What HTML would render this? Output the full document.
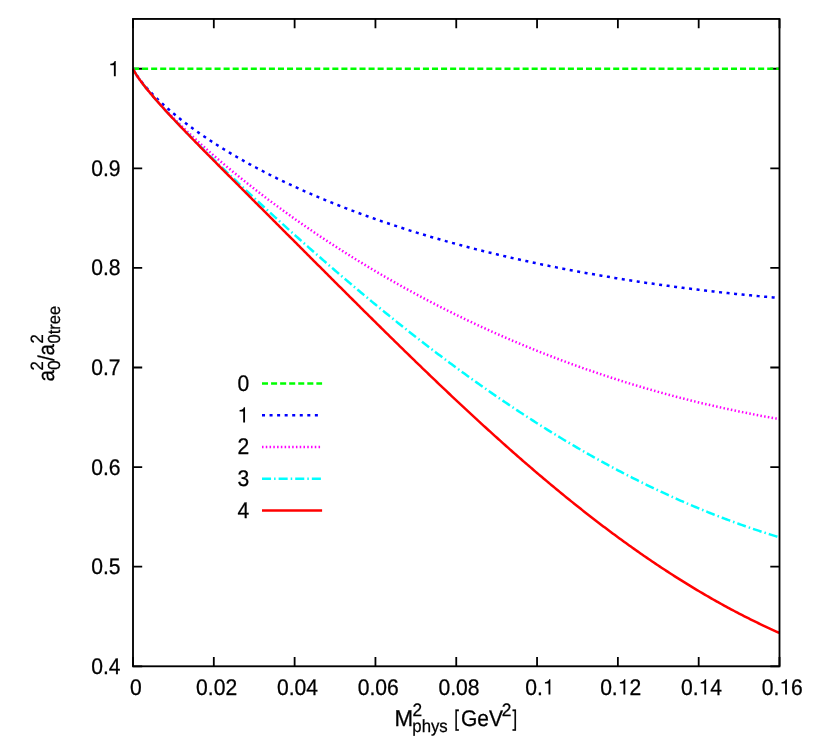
<!DOCTYPE html>
<html><head><meta charset="utf-8"><title>plot</title>
<style>html,body{margin:0;padding:0;background:#fff;}svg{display:block;will-change:transform;}text{font-family:"Liberation Sans",sans-serif;fill:#000;text-rendering:geometricPrecision;stroke:#000;stroke-width:0.25px;}.g1{fill:#000;stroke:none;}</style></head>
<body>
<svg width="830" height="740" viewBox="0 0 830 740">
<rect width="830" height="740" fill="#fff"/>
<g stroke="#000" stroke-width="1.80" fill="none">
<path d="M133.00 666.30V657.10M133.00 18.95V28.15"/>
<path d="M213.81 666.30V657.10M213.81 18.95V28.15"/>
<path d="M294.62 666.30V657.10M294.62 18.95V28.15"/>
<path d="M375.44 666.30V657.10M375.44 18.95V28.15"/>
<path d="M456.25 666.30V657.10M456.25 18.95V28.15"/>
<path d="M537.06 666.30V657.10M537.06 18.95V28.15"/>
<path d="M617.88 666.30V657.10M617.88 18.95V28.15"/>
<path d="M698.69 666.30V657.10M698.69 18.95V28.15"/>
<path d="M779.50 666.30V657.10M779.50 18.95V28.15"/>
<path d="M133.00 666.30H142.20M779.50 666.30H770.30"/>
<path d="M133.00 566.71H142.20M779.50 566.71H770.30"/>
<path d="M133.00 467.12H142.20M779.50 467.12H770.30"/>
<path d="M133.00 367.52H142.20M779.50 367.52H770.30"/>
<path d="M133.00 267.93H142.20M779.50 267.93H770.30"/>
<path d="M133.00 168.34H142.20M779.50 168.34H770.30"/>
<path d="M133.00 68.75H142.20M779.50 68.75H770.30"/>
</g>
<text transform="translate(120.60 673.80) scale(1.005 1.075)" font-size="21.0px" text-anchor="end">0.4</text>
<text transform="translate(120.60 574.21) scale(1.005 1.075)" font-size="21.0px" text-anchor="end">0.5</text>
<text transform="translate(120.60 474.62) scale(1.005 1.075)" font-size="21.0px" text-anchor="end">0.6</text>
<text transform="translate(120.60 375.02) scale(1.005 1.075)" font-size="21.0px" text-anchor="end">0.7</text>
<text transform="translate(120.60 275.43) scale(1.005 1.075)" font-size="21.0px" text-anchor="end">0.8</text>
<text transform="translate(120.60 175.84) scale(1.005 1.075)" font-size="21.0px" text-anchor="end">0.9</text>
<g transform="translate(119.90 76.25) scale(1.005 1.075)" font-size="21.0px"><path class="g1" transform="translate(-11.68 0) scale(0.0210 0.0201)" d="M359 0V-709H302C290 -640 250 -592 101 -574V-510H271V0Z"/></g>
<text transform="translate(135.80 694.55) scale(1.005 1.075)" font-size="21.0px" text-anchor="middle">0</text>
<text transform="translate(216.61 694.55) scale(1.005 1.075)" font-size="21.0px" text-anchor="middle">0.02</text>
<text transform="translate(297.43 694.55) scale(1.005 1.075)" font-size="21.0px" text-anchor="middle">0.04</text>
<text transform="translate(378.24 694.55) scale(1.005 1.075)" font-size="21.0px" text-anchor="middle">0.06</text>
<text transform="translate(459.05 694.55) scale(1.005 1.075)" font-size="21.0px" text-anchor="middle">0.08</text>
<g transform="translate(539.86 694.55) scale(1.005 1.075)" font-size="21.0px"><text x="-14.60" y="0">0.</text><path class="g1" transform="translate(2.92 0) scale(0.0210 0.0201)" d="M359 0V-709H302C290 -640 250 -592 101 -574V-510H271V0Z"/></g>
<g transform="translate(620.67 694.55) scale(1.005 1.075)" font-size="21.0px"><text x="-20.44" y="0">0.</text><path class="g1" transform="translate(-2.92 0) scale(0.0210 0.0201)" d="M359 0V-709H302C290 -640 250 -592 101 -574V-510H271V0Z"/><text x="8.76" y="0">2</text></g>
<g transform="translate(701.49 694.55) scale(1.005 1.075)" font-size="21.0px"><text x="-20.44" y="0">0.</text><path class="g1" transform="translate(-2.92 0) scale(0.0210 0.0201)" d="M359 0V-709H302C290 -640 250 -592 101 -574V-510H271V0Z"/><text x="8.76" y="0">4</text></g>
<g transform="translate(782.30 694.55) scale(1.005 1.075)" font-size="21.0px"><text x="-20.44" y="0">0.</text><path class="g1" transform="translate(-2.92 0) scale(0.0210 0.0201)" d="M359 0V-709H302C290 -640 250 -592 101 -574V-510H271V0Z"/><text x="8.76" y="0">6</text></g>
<text transform="translate(249.20 390.70) scale(1.005 1.075)" font-size="21.0px" text-anchor="end">0</text>
<g transform="translate(249.20 422.50) scale(1.005 1.075)" font-size="21.0px"><path class="g1" transform="translate(-11.68 0) scale(0.0210 0.0201)" d="M359 0V-709H302C290 -640 250 -592 101 -574V-510H271V0Z"/></g>
<text transform="translate(249.20 454.30) scale(1.005 1.075)" font-size="21.0px" text-anchor="end">2</text>
<text transform="translate(249.20 486.10) scale(1.005 1.075)" font-size="21.0px" text-anchor="end">3</text>
<text transform="translate(249.20 517.80) scale(1.005 1.075)" font-size="21.0px" text-anchor="end">4</text>
<text transform="translate(394.60 725.50) scale(1.065 1.100)" font-size="21.0px">M</text>
<text transform="translate(412.60 715.70) scale(1.030 1.080)" font-size="16.8px">2</text>
<text transform="translate(412.30 732.20) scale(1.000 1.050)" font-size="16.8px">phys</text>
<text transform="translate(454.20 725.50) scale(0.800 1.080)" font-size="21.0px">[</text>
<text transform="translate(460.90 725.50) scale(1.000 1.080)" font-size="21.0px">GeV</text>
<text transform="translate(501.75 715.50) scale(1.030 1.080)" font-size="16.8px">2</text>
<text transform="translate(512.50 725.50) scale(0.800 1.080)" font-size="21.0px">]</text>
<g transform="translate(53.7 381.5) rotate(-90)">
<text transform="translate(0.00 0.00) scale(0.980 1.080)" font-size="21.0px">a</text>
<text transform="translate(11.10 -10.60) scale(1.000 1.060)" font-size="16.8px">2</text>
<text transform="translate(11.40 6.20) scale(1.030 1.040)" font-size="16.8px">0</text>
<text transform="translate(20.60 0.00) scale(1.000 1.080)" font-size="21.0px">/</text>
<text transform="translate(25.90 0.00) scale(0.980 1.080)" font-size="21.0px">a</text>
<text transform="translate(38.00 -10.60) scale(1.000 1.060)" font-size="16.8px">2</text>
<text transform="translate(38.00 6.20) scale(0.986 1.040)" font-size="16.8px">0tree</text>
</g>
<g fill="none" stroke-width="2.5" stroke-linecap="butt" stroke-linejoin="round">
<path d="M262 383.40H322.1" stroke="#00ff00" stroke-dasharray="6.04 3.02"/>
<polyline points="133.00,68.75 134.62,68.75 136.23,68.75 137.85,68.75 139.47,68.75 141.08,68.75 142.70,68.75 144.31,68.75 145.93,68.75 147.55,68.75 149.16,68.75 150.78,68.75 152.39,68.75 154.01,68.75 155.63,68.75 157.24,68.75 158.86,68.75 160.48,68.75 162.09,68.75 163.71,68.75 165.32,68.75 166.94,68.75 168.56,68.75 170.17,68.75 171.79,68.75 173.41,68.75 175.02,68.75 176.64,68.75 178.25,68.75 179.87,68.75 181.49,68.75 183.10,68.75 184.72,68.75 186.34,68.75 187.95,68.75 189.57,68.75 191.19,68.75 192.80,68.75 194.42,68.75 196.03,68.75 197.65,68.75 199.27,68.75 200.88,68.75 202.50,68.75 204.12,68.75 205.73,68.75 207.35,68.75 208.96,68.75 210.58,68.75 212.20,68.75 213.81,68.75 215.43,68.75 217.05,68.75 218.66,68.75 220.28,68.75 221.89,68.75 223.51,68.75 225.13,68.75 226.74,68.75 228.36,68.75 229.97,68.75 231.59,68.75 233.21,68.75 234.82,68.75 236.44,68.75 238.06,68.75 239.67,68.75 241.29,68.75 242.91,68.75 244.52,68.75 246.14,68.75 247.75,68.75 249.37,68.75 250.99,68.75 252.60,68.75 254.22,68.75 255.84,68.75 257.45,68.75 259.07,68.75 260.68,68.75 262.30,68.75 263.92,68.75 265.53,68.75 267.15,68.75 268.76,68.75 270.38,68.75 272.00,68.75 273.61,68.75 275.23,68.75 276.85,68.75 278.46,68.75 280.08,68.75 281.69,68.75 283.31,68.75 284.93,68.75 286.54,68.75 288.16,68.75 289.78,68.75 291.39,68.75 293.01,68.75 294.62,68.75 296.24,68.75 297.86,68.75 299.47,68.75 301.09,68.75 302.71,68.75 304.32,68.75 305.94,68.75 307.56,68.75 309.17,68.75 310.79,68.75 312.40,68.75 314.02,68.75 315.64,68.75 317.25,68.75 318.87,68.75 320.49,68.75 322.10,68.75 323.72,68.75 325.33,68.75 326.95,68.75 328.57,68.75 330.18,68.75 331.80,68.75 333.41,68.75 335.03,68.75 336.65,68.75 338.26,68.75 339.88,68.75 341.50,68.75 343.11,68.75 344.73,68.75 346.35,68.75 347.96,68.75 349.58,68.75 351.19,68.75 352.81,68.75 354.43,68.75 356.04,68.75 357.66,68.75 359.28,68.75 360.89,68.75 362.51,68.75 364.12,68.75 365.74,68.75 367.36,68.75 368.97,68.75 370.59,68.75 372.20,68.75 373.82,68.75 375.44,68.75 377.05,68.75 378.67,68.75 380.29,68.75 381.90,68.75 383.52,68.75 385.13,68.75 386.75,68.75 388.37,68.75 389.98,68.75 391.60,68.75 393.22,68.75 394.83,68.75 396.45,68.75 398.06,68.75 399.68,68.75 401.30,68.75 402.91,68.75 404.53,68.75 406.15,68.75 407.76,68.75 409.38,68.75 411.00,68.75 412.61,68.75 414.23,68.75 415.84,68.75 417.46,68.75 419.08,68.75 420.69,68.75 422.31,68.75 423.93,68.75 425.54,68.75 427.16,68.75 428.77,68.75 430.39,68.75 432.01,68.75 433.62,68.75 435.24,68.75 436.86,68.75 438.47,68.75 440.09,68.75 441.70,68.75 443.32,68.75 444.94,68.75 446.55,68.75 448.17,68.75 449.78,68.75 451.40,68.75 453.02,68.75 454.63,68.75 456.25,68.75 457.87,68.75 459.48,68.75 461.10,68.75 462.72,68.75 464.33,68.75 465.95,68.75 467.56,68.75 469.18,68.75 470.80,68.75 472.41,68.75 474.03,68.75 475.65,68.75 477.26,68.75 478.88,68.75 480.49,68.75 482.11,68.75 483.73,68.75 485.34,68.75 486.96,68.75 488.58,68.75 490.19,68.75 491.81,68.75 493.42,68.75 495.04,68.75 496.66,68.75 498.27,68.75 499.89,68.75 501.51,68.75 503.12,68.75 504.74,68.75 506.35,68.75 507.97,68.75 509.59,68.75 511.20,68.75 512.82,68.75 514.43,68.75 516.05,68.75 517.67,68.75 519.28,68.75 520.90,68.75 522.52,68.75 524.13,68.75 525.75,68.75 527.37,68.75 528.98,68.75 530.60,68.75 532.21,68.75 533.83,68.75 535.45,68.75 537.06,68.75 538.68,68.75 540.30,68.75 541.91,68.75 543.53,68.75 545.14,68.75 546.76,68.75 548.38,68.75 549.99,68.75 551.61,68.75 553.23,68.75 554.84,68.75 556.46,68.75 558.07,68.75 559.69,68.75 561.31,68.75 562.92,68.75 564.54,68.75 566.15,68.75 567.77,68.75 569.39,68.75 571.00,68.75 572.62,68.75 574.24,68.75 575.85,68.75 577.47,68.75 579.09,68.75 580.70,68.75 582.32,68.75 583.93,68.75 585.55,68.75 587.17,68.75 588.78,68.75 590.40,68.75 592.01,68.75 593.63,68.75 595.25,68.75 596.86,68.75 598.48,68.75 600.10,68.75 601.71,68.75 603.33,68.75 604.94,68.75 606.56,68.75 608.18,68.75 609.79,68.75 611.41,68.75 613.03,68.75 614.64,68.75 616.26,68.75 617.88,68.75 619.49,68.75 621.11,68.75 622.72,68.75 624.34,68.75 625.96,68.75 627.57,68.75 629.19,68.75 630.81,68.75 632.42,68.75 634.04,68.75 635.65,68.75 637.27,68.75 638.89,68.75 640.50,68.75 642.12,68.75 643.74,68.75 645.35,68.75 646.97,68.75 648.58,68.75 650.20,68.75 651.82,68.75 653.43,68.75 655.05,68.75 656.67,68.75 658.28,68.75 659.90,68.75 661.51,68.75 663.13,68.75 664.75,68.75 666.36,68.75 667.98,68.75 669.60,68.75 671.21,68.75 672.83,68.75 674.44,68.75 676.06,68.75 677.68,68.75 679.29,68.75 680.91,68.75 682.53,68.75 684.14,68.75 685.76,68.75 687.37,68.75 688.99,68.75 690.61,68.75 692.22,68.75 693.84,68.75 695.45,68.75 697.07,68.75 698.69,68.75 700.30,68.75 701.92,68.75 703.54,68.75 705.15,68.75 706.77,68.75 708.38,68.75 710.00,68.75 711.62,68.75 713.23,68.75 714.85,68.75 716.47,68.75 718.08,68.75 719.70,68.75 721.32,68.75 722.93,68.75 724.55,68.75 726.16,68.75 727.78,68.75 729.40,68.75 731.01,68.75 732.63,68.75 734.25,68.75 735.86,68.75 737.48,68.75 739.09,68.75 740.71,68.75 742.33,68.75 743.94,68.75 745.56,68.75 747.18,68.75 748.79,68.75 750.41,68.75 752.02,68.75 753.64,68.75 755.26,68.75 756.87,68.75 758.49,68.75 760.11,68.75 761.72,68.75 763.34,68.75 764.95,68.75 766.57,68.75 768.19,68.75 769.80,68.75 771.42,68.75 773.03,68.75 774.65,68.75 776.27,68.75 777.88,68.75 779.50,68.75" stroke="#00ff00" stroke-dasharray="6.04 3.02"/>
<path d="M262 415.20H322.1" stroke="#0000ff" stroke-dasharray="3.02 4.53"/>
<polyline points="133.00,68.75 134.62,71.94 136.23,74.53 137.85,76.89 139.47,79.10 141.08,81.20 142.70,83.21 144.31,85.15 145.93,87.02 147.55,88.84 149.16,90.62 150.78,92.34 152.39,94.03 154.01,95.69 155.63,97.30 157.24,98.89 158.86,100.45 160.48,101.98 162.09,103.48 163.71,104.96 165.32,106.42 166.94,107.86 168.56,109.27 170.17,110.67 171.79,112.04 173.41,113.40 175.02,114.74 176.64,116.06 178.25,117.37 179.87,118.66 181.49,119.94 183.10,121.20 184.72,122.45 186.34,123.68 187.95,124.90 189.57,126.11 191.19,127.30 192.80,128.49 194.42,129.66 196.03,130.82 197.65,131.97 199.27,133.10 200.88,134.23 202.50,135.35 204.12,136.45 205.73,137.55 207.35,138.64 208.96,139.71 210.58,140.78 212.20,141.84 213.81,142.89 215.43,143.93 217.05,144.96 218.66,145.99 220.28,147.00 221.89,148.01 223.51,149.01 225.13,150.00 226.74,150.99 228.36,151.96 229.97,152.93 231.59,153.89 233.21,154.85 234.82,155.80 236.44,156.74 238.06,157.67 239.67,158.60 241.29,159.52 242.91,160.43 244.52,161.34 246.14,162.24 247.75,163.14 249.37,164.03 250.99,164.91 252.60,165.79 254.22,166.66 255.84,167.52 257.45,168.38 259.07,169.23 260.68,170.08 262.30,170.92 263.92,171.76 265.53,172.59 267.15,173.42 268.76,174.24 270.38,175.06 272.00,175.87 273.61,176.67 275.23,177.47 276.85,178.27 278.46,179.06 280.08,179.84 281.69,180.63 283.31,181.40 284.93,182.17 286.54,182.94 288.16,183.70 289.78,184.46 291.39,185.21 293.01,185.96 294.62,186.71 296.24,187.45 297.86,188.18 299.47,188.91 301.09,189.64 302.71,190.36 304.32,191.08 305.94,191.80 307.56,192.51 309.17,193.21 310.79,193.92 312.40,194.61 314.02,195.31 315.64,196.00 317.25,196.69 318.87,197.37 320.49,198.05 322.10,198.72 323.72,199.39 325.33,200.06 326.95,200.73 328.57,201.39 330.18,202.04 331.80,202.70 333.41,203.35 335.03,203.99 336.65,204.64 338.26,205.27 339.88,205.91 341.50,206.54 343.11,207.17 344.73,207.80 346.35,208.42 347.96,209.04 349.58,209.65 351.19,210.27 352.81,210.88 354.43,211.48 356.04,212.08 357.66,212.68 359.28,213.28 360.89,213.87 362.51,214.46 364.12,215.05 365.74,215.64 367.36,216.22 368.97,216.79 370.59,217.37 372.20,217.94 373.82,218.51 375.44,219.08 377.05,219.64 378.67,220.20 380.29,220.76 381.90,221.31 383.52,221.86 385.13,222.41 386.75,222.96 388.37,223.50 389.98,224.04 391.60,224.58 393.22,225.12 394.83,225.65 396.45,226.18 398.06,226.71 399.68,227.23 401.30,227.75 402.91,228.27 404.53,228.79 406.15,229.30 407.76,229.81 409.38,230.32 411.00,230.83 412.61,231.33 414.23,231.83 415.84,232.33 417.46,232.83 419.08,233.32 420.69,233.81 422.31,234.30 423.93,234.78 425.54,235.27 427.16,235.75 428.77,236.23 430.39,236.70 432.01,237.18 433.62,237.65 435.24,238.12 436.86,238.59 438.47,239.05 440.09,239.51 441.70,239.97 443.32,240.43 444.94,240.89 446.55,241.34 448.17,241.79 449.78,242.24 451.40,242.69 453.02,243.13 454.63,243.57 456.25,244.01 457.87,244.45 459.48,244.89 461.10,245.32 462.72,245.75 464.33,246.18 465.95,246.61 467.56,247.03 469.18,247.46 470.80,247.88 472.41,248.29 474.03,248.71 475.65,249.13 477.26,249.54 478.88,249.95 480.49,250.36 482.11,250.76 483.73,251.17 485.34,251.57 486.96,251.97 488.58,252.37 490.19,252.76 491.81,253.16 493.42,253.55 495.04,253.94 496.66,254.33 498.27,254.71 499.89,255.10 501.51,255.48 503.12,255.86 504.74,256.24 506.35,256.62 507.97,256.99 509.59,257.36 511.20,257.74 512.82,258.10 514.43,258.47 516.05,258.84 517.67,259.20 519.28,259.56 520.90,259.92 522.52,260.28 524.13,260.64 525.75,260.99 527.37,261.34 528.98,261.70 530.60,262.04 532.21,262.39 533.83,262.74 535.45,263.08 537.06,263.42 538.68,263.76 540.30,264.10 541.91,264.44 543.53,264.77 545.14,265.11 546.76,265.44 548.38,265.77 549.99,266.10 551.61,266.42 553.23,266.75 554.84,267.07 556.46,267.39 558.07,267.71 559.69,268.03 561.31,268.35 562.92,268.66 564.54,268.98 566.15,269.29 567.77,269.60 569.39,269.91 571.00,270.21 572.62,270.52 574.24,270.82 575.85,271.12 577.47,271.42 579.09,271.72 580.70,272.02 582.32,272.32 583.93,272.61 585.55,272.90 587.17,273.19 588.78,273.48 590.40,273.77 592.01,274.06 593.63,274.34 595.25,274.62 596.86,274.91 598.48,275.19 600.10,275.46 601.71,275.74 603.33,276.02 604.94,276.29 606.56,276.56 608.18,276.83 609.79,277.10 611.41,277.37 613.03,277.64 614.64,277.90 616.26,278.17 617.88,278.43 619.49,278.69 621.11,278.95 622.72,279.21 624.34,279.46 625.96,279.72 627.57,279.97 629.19,280.22 630.81,280.47 632.42,280.72 634.04,280.97 635.65,281.22 637.27,281.46 638.89,281.71 640.50,281.95 642.12,282.19 643.74,282.43 645.35,282.67 646.97,282.90 648.58,283.14 650.20,283.37 651.82,283.60 653.43,283.84 655.05,284.07 656.67,284.29 658.28,284.52 659.90,284.75 661.51,284.97 663.13,285.19 664.75,285.42 666.36,285.64 667.98,285.86 669.60,286.07 671.21,286.29 672.83,286.50 674.44,286.72 676.06,286.93 677.68,287.14 679.29,287.35 680.91,287.56 682.53,287.77 684.14,287.97 685.76,288.18 687.37,288.38 688.99,288.58 690.61,288.79 692.22,288.99 693.84,289.18 695.45,289.38 697.07,289.58 698.69,289.77 700.30,289.96 701.92,290.16 703.54,290.35 705.15,290.54 706.77,290.73 708.38,290.91 710.00,291.10 711.62,291.28 713.23,291.47 714.85,291.65 716.47,291.83 718.08,292.01 719.70,292.19 721.32,292.37 722.93,292.54 724.55,292.72 726.16,292.89 727.78,293.06 729.40,293.24 731.01,293.41 732.63,293.57 734.25,293.74 735.86,293.91 737.48,294.07 739.09,294.24 740.71,294.40 742.33,294.56 743.94,294.73 745.56,294.88 747.18,295.04 748.79,295.20 750.41,295.36 752.02,295.51 753.64,295.67 755.26,295.82 756.87,295.97 758.49,296.12 760.11,296.27 761.72,296.42 763.34,296.57 764.95,296.71 766.57,296.86 768.19,297.00 769.80,297.14 771.42,297.29 773.03,297.43 774.65,297.57 776.27,297.70 777.88,297.84 779.50,297.98" stroke="#0000ff" stroke-dasharray="3.02 4.53"/>
<path d="M262 447.00H322.1" stroke="#ff00ff" stroke-dasharray="1.51 2.26"/>
<polyline points="133.00,68.75 134.62,71.96 136.23,74.61 137.85,77.04 139.47,79.34 141.08,81.55 142.70,83.69 144.31,85.77 145.93,87.79 147.55,89.78 149.16,91.72 150.78,93.63 152.39,95.51 154.01,97.36 155.63,99.18 157.24,100.99 158.86,102.77 160.48,104.53 162.09,106.27 163.71,107.99 165.32,109.69 166.94,111.38 168.56,113.06 170.17,114.72 171.79,116.36 173.41,118.00 175.02,119.62 176.64,121.22 178.25,122.82 179.87,124.41 181.49,125.98 183.10,127.54 184.72,129.09 186.34,130.64 187.95,132.17 189.57,133.69 191.19,135.21 192.80,136.72 194.42,138.21 196.03,139.70 197.65,141.18 199.27,142.65 200.88,144.12 202.50,145.57 204.12,147.02 205.73,148.46 207.35,149.90 208.96,151.33 210.58,152.75 212.20,154.16 213.81,155.56 215.43,156.96 217.05,158.36 218.66,159.74 220.28,161.12 221.89,162.50 223.51,163.86 225.13,165.22 226.74,166.58 228.36,167.93 229.97,169.27 231.59,170.61 233.21,171.94 234.82,173.27 236.44,174.59 238.06,175.90 239.67,177.21 241.29,178.52 242.91,179.82 244.52,181.11 246.14,182.40 247.75,183.68 249.37,184.96 250.99,186.23 252.60,187.50 254.22,188.76 255.84,190.02 257.45,191.27 259.07,192.52 260.68,193.76 262.30,195.00 263.92,196.23 265.53,197.46 267.15,198.68 268.76,199.90 270.38,201.11 272.00,202.32 273.61,203.53 275.23,204.73 276.85,205.93 278.46,207.12 280.08,208.30 281.69,209.49 283.31,210.66 284.93,211.84 286.54,213.01 288.16,214.17 289.78,215.33 291.39,216.49 293.01,217.64 294.62,218.79 296.24,219.93 297.86,221.07 299.47,222.21 301.09,223.34 302.71,224.47 304.32,225.59 305.94,226.71 307.56,227.82 309.17,228.93 310.79,230.04 312.40,231.14 314.02,232.24 315.64,233.34 317.25,234.43 318.87,235.51 320.49,236.60 322.10,237.67 323.72,238.75 325.33,239.82 326.95,240.89 328.57,241.95 330.18,243.01 331.80,244.07 333.41,245.12 335.03,246.17 336.65,247.21 338.26,248.25 339.88,249.29 341.50,250.32 343.11,251.35 344.73,252.38 346.35,253.40 347.96,254.42 349.58,255.43 351.19,256.45 352.81,257.45 354.43,258.46 356.04,259.46 357.66,260.45 359.28,261.45 360.89,262.44 362.51,263.42 364.12,264.41 365.74,265.38 367.36,266.36 368.97,267.33 370.59,268.30 372.20,269.26 373.82,270.23 375.44,271.18 377.05,272.14 378.67,273.09 380.29,274.04 381.90,274.98 383.52,275.92 385.13,276.86 386.75,277.79 388.37,278.72 389.98,279.65 391.60,280.57 393.22,281.49 394.83,282.41 396.45,283.32 398.06,284.23 399.68,285.14 401.30,286.04 402.91,286.95 404.53,287.84 406.15,288.74 407.76,289.63 409.38,290.51 411.00,291.40 412.61,292.28 414.23,293.15 415.84,294.03 417.46,294.90 419.08,295.77 420.69,296.63 422.31,297.49 423.93,298.35 425.54,299.20 427.16,300.06 428.77,300.90 430.39,301.75 432.01,302.59 433.62,303.43 435.24,304.27 436.86,305.10 438.47,305.93 440.09,306.75 441.70,307.58 443.32,308.40 444.94,309.21 446.55,310.03 448.17,310.84 449.78,311.64 451.40,312.45 453.02,313.25 454.63,314.05 456.25,314.84 457.87,315.63 459.48,316.42 461.10,317.21 462.72,317.99 464.33,318.77 465.95,319.55 467.56,320.32 469.18,321.09 470.80,321.86 472.41,322.62 474.03,323.39 475.65,324.15 477.26,324.90 478.88,325.65 480.49,326.40 482.11,327.15 483.73,327.89 485.34,328.63 486.96,329.37 488.58,330.11 490.19,330.84 491.81,331.57 493.42,332.29 495.04,333.02 496.66,333.74 498.27,334.45 499.89,335.17 501.51,335.88 503.12,336.59 504.74,337.29 506.35,338.00 507.97,338.70 509.59,339.39 511.20,340.09 512.82,340.78 514.43,341.47 516.05,342.15 517.67,342.84 519.28,343.52 520.90,344.19 522.52,344.87 524.13,345.54 525.75,346.21 527.37,346.87 528.98,347.54 530.60,348.20 532.21,348.85 533.83,349.51 535.45,350.16 537.06,350.81 538.68,351.45 540.30,352.10 541.91,352.74 543.53,353.38 545.14,354.01 546.76,354.64 548.38,355.27 549.99,355.90 551.61,356.52 553.23,357.15 554.84,357.76 556.46,358.38 558.07,358.99 559.69,359.60 561.31,360.21 562.92,360.82 564.54,361.42 566.15,362.02 567.77,362.61 569.39,363.21 571.00,363.80 572.62,364.39 574.24,364.97 575.85,365.56 577.47,366.14 579.09,366.72 580.70,367.29 582.32,367.86 583.93,368.44 585.55,369.00 587.17,369.57 588.78,370.13 590.40,370.69 592.01,371.25 593.63,371.80 595.25,372.35 596.86,372.90 598.48,373.45 600.10,373.99 601.71,374.53 603.33,375.07 604.94,375.61 606.56,376.14 608.18,376.67 609.79,377.20 611.41,377.73 613.03,378.25 614.64,378.77 616.26,379.29 617.88,379.80 619.49,380.32 621.11,380.83 622.72,381.33 624.34,381.84 625.96,382.34 627.57,382.84 629.19,383.34 630.81,383.84 632.42,384.33 634.04,384.82 635.65,385.31 637.27,385.79 638.89,386.27 640.50,386.75 642.12,387.23 643.74,387.71 645.35,388.18 646.97,388.65 648.58,389.12 650.20,389.58 651.82,390.05 653.43,390.51 655.05,390.96 656.67,391.42 658.28,391.87 659.90,392.32 661.51,392.77 663.13,393.22 664.75,393.66 666.36,394.10 667.98,394.54 669.60,394.97 671.21,395.41 672.83,395.84 674.44,396.27 676.06,396.69 677.68,397.12 679.29,397.54 680.91,397.96 682.53,398.37 684.14,398.79 685.76,399.20 687.37,399.61 688.99,400.02 690.61,400.42 692.22,400.82 693.84,401.22 695.45,401.62 697.07,402.02 698.69,402.41 700.30,402.80 701.92,403.19 703.54,403.57 705.15,403.96 706.77,404.34 708.38,404.72 710.00,405.09 711.62,405.47 713.23,405.84 714.85,406.21 716.47,406.58 718.08,406.94 719.70,407.30 721.32,407.66 722.93,408.02 724.55,408.38 726.16,408.73 727.78,409.08 729.40,409.43 731.01,409.78 732.63,410.12 734.25,410.46 735.86,410.80 737.48,411.14 739.09,411.48 740.71,411.81 742.33,412.14 743.94,412.47 745.56,412.80 747.18,413.12 748.79,413.44 750.41,413.76 752.02,414.08 753.64,414.39 755.26,414.71 756.87,415.02 758.49,415.32 760.11,415.63 761.72,415.94 763.34,416.24 764.95,416.54 766.57,416.83 768.19,417.13 769.80,417.42 771.42,417.71 773.03,418.00 774.65,418.29 776.27,418.57 777.88,418.85 779.50,419.13" stroke="#ff00ff" stroke-dasharray="1.51 2.26"/>
<path d="M262 478.80H322.1" stroke="#00ffff" stroke-dasharray="9.06 3.02 1.51 3.02"/>
<polyline points="133.00,68.75 134.62,71.96 136.23,74.61 137.85,77.05 139.47,79.36 141.08,81.57 142.70,83.72 144.31,85.81 145.93,87.85 147.55,89.86 149.16,91.82 150.78,93.76 152.39,95.67 154.01,97.55 155.63,99.41 157.24,101.25 158.86,103.08 160.48,104.89 162.09,106.68 163.71,108.45 165.32,110.22 166.94,111.97 168.56,113.71 170.17,115.44 171.79,117.16 173.41,118.87 175.02,120.57 176.64,122.26 178.25,123.95 179.87,125.63 181.49,127.30 183.10,128.96 184.72,130.61 186.34,132.26 187.95,133.91 189.57,135.55 191.19,137.18 192.80,138.81 194.42,140.43 196.03,142.05 197.65,143.66 199.27,145.27 200.88,146.87 202.50,148.47 204.12,150.07 205.73,151.66 207.35,153.25 208.96,154.83 210.58,156.41 212.20,157.99 213.81,159.56 215.43,161.13 217.05,162.70 218.66,164.26 220.28,165.83 221.89,167.38 223.51,168.94 225.13,170.49 226.74,172.04 228.36,173.58 229.97,175.13 231.59,176.67 233.21,178.21 234.82,179.74 236.44,181.27 238.06,182.80 239.67,184.33 241.29,185.86 242.91,187.38 244.52,188.90 246.14,190.42 247.75,191.93 249.37,193.45 250.99,194.96 252.60,196.46 254.22,197.97 255.84,199.47 257.45,200.97 259.07,202.47 260.68,203.97 262.30,205.47 263.92,206.96 265.53,208.45 267.15,209.94 268.76,211.42 270.38,212.91 272.00,214.39 273.61,215.87 275.23,217.34 276.85,218.82 278.46,220.29 280.08,221.76 281.69,223.23 283.31,224.69 284.93,226.16 286.54,227.62 288.16,229.08 289.78,230.54 291.39,231.99 293.01,233.45 294.62,234.90 296.24,236.34 297.86,237.79 299.47,239.24 301.09,240.68 302.71,242.12 304.32,243.55 305.94,244.99 307.56,246.42 309.17,247.85 310.79,249.28 312.40,250.71 314.02,252.13 315.64,253.56 317.25,254.98 318.87,256.39 320.49,257.81 322.10,259.22 323.72,260.63 325.33,262.04 326.95,263.45 328.57,264.85 330.18,266.25 331.80,267.65 333.41,269.05 335.03,270.44 336.65,271.84 338.26,273.23 339.88,274.61 341.50,276.00 343.11,277.38 344.73,278.76 346.35,280.14 347.96,281.52 349.58,282.89 351.19,284.26 352.81,285.63 354.43,286.99 356.04,288.36 357.66,289.72 359.28,291.08 360.89,292.43 362.51,293.79 364.12,295.14 365.74,296.49 367.36,297.83 368.97,299.17 370.59,300.52 372.20,301.85 373.82,303.19 375.44,304.52 377.05,305.85 378.67,307.18 380.29,308.51 381.90,309.83 383.52,311.15 385.13,312.47 386.75,313.78 388.37,315.09 389.98,316.40 391.60,317.71 393.22,319.01 394.83,320.32 396.45,321.61 398.06,322.91 399.68,324.20 401.30,325.49 402.91,326.78 404.53,328.07 406.15,329.35 407.76,330.63 409.38,331.91 411.00,333.18 412.61,334.45 414.23,335.72 415.84,336.98 417.46,338.25 419.08,339.51 420.69,340.76 422.31,342.02 423.93,343.27 425.54,344.52 427.16,345.76 428.77,347.01 430.39,348.25 432.01,349.48 433.62,350.72 435.24,351.95 436.86,353.17 438.47,354.40 440.09,355.62 441.70,356.84 443.32,358.06 444.94,359.27 446.55,360.48 448.17,361.69 449.78,362.89 451.40,364.09 453.02,365.29 454.63,366.48 456.25,367.68 457.87,368.87 459.48,370.05 461.10,371.23 462.72,372.41 464.33,373.59 465.95,374.76 467.56,375.93 469.18,377.10 470.80,378.26 472.41,379.43 474.03,380.58 475.65,381.74 477.26,382.89 478.88,384.04 480.49,385.18 482.11,386.33 483.73,387.46 485.34,388.60 486.96,389.73 488.58,390.86 490.19,391.99 491.81,393.11 493.42,394.23 495.04,395.35 496.66,396.46 498.27,397.57 499.89,398.67 501.51,399.78 503.12,400.88 504.74,401.97 506.35,403.07 507.97,404.16 509.59,405.25 511.20,406.33 512.82,407.41 514.43,408.49 516.05,409.56 517.67,410.63 519.28,411.70 520.90,412.76 522.52,413.82 524.13,414.88 525.75,415.93 527.37,416.98 528.98,418.03 530.60,419.07 532.21,420.11 533.83,421.15 535.45,422.18 537.06,423.21 538.68,424.24 540.30,425.26 541.91,426.28 543.53,427.30 545.14,428.31 546.76,429.32 548.38,430.33 549.99,431.33 551.61,432.33 553.23,433.32 554.84,434.31 556.46,435.30 558.07,436.29 559.69,437.27 561.31,438.25 562.92,439.22 564.54,440.20 566.15,441.16 567.77,442.13 569.39,443.09 571.00,444.05 572.62,445.00 574.24,445.95 575.85,446.90 577.47,447.84 579.09,448.78 580.70,449.72 582.32,450.65 583.93,451.58 585.55,452.50 587.17,453.43 588.78,454.35 590.40,455.26 592.01,456.17 593.63,457.08 595.25,457.98 596.86,458.89 598.48,459.78 600.10,460.68 601.71,461.57 603.33,462.45 604.94,463.34 606.56,464.22 608.18,465.09 609.79,465.96 611.41,466.83 613.03,467.70 614.64,468.56 616.26,469.42 617.88,470.27 619.49,471.12 621.11,471.97 622.72,472.81 624.34,473.65 625.96,474.49 627.57,475.32 629.19,476.15 630.81,476.98 632.42,477.80 634.04,478.62 635.65,479.43 637.27,480.24 638.89,481.05 640.50,481.85 642.12,482.65 643.74,483.45 645.35,484.24 646.97,485.03 648.58,485.82 650.20,486.60 651.82,487.38 653.43,488.15 655.05,488.93 656.67,489.69 658.28,490.46 659.90,491.22 661.51,491.97 663.13,492.73 664.75,493.48 666.36,494.22 667.98,494.96 669.60,495.70 671.21,496.44 672.83,497.17 674.44,497.89 676.06,498.62 677.68,499.34 679.29,500.06 680.91,500.77 682.53,501.48 684.14,502.18 685.76,502.88 687.37,503.58 688.99,504.28 690.61,504.97 692.22,505.65 693.84,506.34 695.45,507.02 697.07,507.69 698.69,508.37 700.30,509.04 701.92,509.70 703.54,510.36 705.15,511.02 706.77,511.67 708.38,512.33 710.00,512.97 711.62,513.62 713.23,514.25 714.85,514.89 716.47,515.52 718.08,516.15 719.70,516.78 721.32,517.40 722.93,518.02 724.55,518.63 726.16,519.24 727.78,519.85 729.40,520.45 731.01,521.05 732.63,521.64 734.25,522.24 735.86,522.83 737.48,523.41 739.09,523.99 740.71,524.57 742.33,525.14 743.94,525.71 745.56,526.28 747.18,526.84 748.79,527.40 750.41,527.96 752.02,528.51 753.64,529.06 755.26,529.60 756.87,530.14 758.49,530.68 760.11,531.21 761.72,531.75 763.34,532.27 764.95,532.79 766.57,533.31 768.19,533.83 769.80,534.34 771.42,534.85 773.03,535.35 774.65,535.86 776.27,536.35 777.88,536.85 779.50,537.34" stroke="#00ffff" stroke-dasharray="9.06 3.02 1.51 3.02"/>
<path d="M262 510.50H322.1" stroke="#ff0000"/>
<polyline points="133.00,68.75 134.62,71.96 136.23,74.61 137.85,77.05 139.47,79.36 141.08,81.57 142.70,83.72 144.31,85.81 145.93,87.86 147.55,89.86 149.16,91.83 150.78,93.77 152.39,95.68 154.01,97.57 155.63,99.44 157.24,101.28 158.86,103.11 160.48,104.93 162.09,106.73 163.71,108.51 165.32,110.29 166.94,112.05 168.56,113.80 170.17,115.55 171.79,117.28 173.41,119.01 175.02,120.73 176.64,122.44 178.25,124.14 179.87,125.84 181.49,127.53 183.10,129.22 184.72,130.90 186.34,132.58 187.95,134.25 189.57,135.92 191.19,137.59 192.80,139.25 194.42,140.91 196.03,142.56 197.65,144.21 199.27,145.86 200.88,147.51 202.50,149.15 204.12,150.80 205.73,152.44 207.35,154.07 208.96,155.71 210.58,157.35 212.20,158.98 213.81,160.61 215.43,162.24 217.05,163.87 218.66,165.50 220.28,167.12 221.89,168.75 223.51,170.38 225.13,172.00 226.74,173.62 228.36,175.25 229.97,176.87 231.59,178.49 233.21,180.11 234.82,181.73 236.44,183.35 238.06,184.97 239.67,186.59 241.29,188.21 242.91,189.83 244.52,191.45 246.14,193.06 247.75,194.68 249.37,196.30 250.99,197.92 252.60,199.54 254.22,201.15 255.84,202.77 257.45,204.39 259.07,206.01 260.68,207.62 262.30,209.24 263.92,210.86 265.53,212.48 267.15,214.09 268.76,215.71 270.38,217.33 272.00,218.95 273.61,220.56 275.23,222.18 276.85,223.80 278.46,225.42 280.08,227.04 281.69,228.65 283.31,230.27 284.93,231.89 286.54,233.51 288.16,235.13 289.78,236.75 291.39,238.36 293.01,239.98 294.62,241.60 296.24,243.22 297.86,244.84 299.47,246.46 301.09,248.08 302.71,249.69 304.32,251.31 305.94,252.93 307.56,254.55 309.17,256.17 310.79,257.79 312.40,259.40 314.02,261.02 315.64,262.64 317.25,264.26 318.87,265.87 320.49,267.49 322.10,269.11 323.72,270.72 325.33,272.34 326.95,273.96 328.57,275.57 330.18,277.19 331.80,278.80 333.41,280.42 335.03,282.03 336.65,283.65 338.26,285.26 339.88,286.87 341.50,288.49 343.11,290.10 344.73,291.71 346.35,293.32 347.96,294.93 349.58,296.54 351.19,298.15 352.81,299.76 354.43,301.37 356.04,302.98 357.66,304.58 359.28,306.19 360.89,307.80 362.51,309.40 364.12,311.01 365.74,312.61 367.36,314.21 368.97,315.81 370.59,317.41 372.20,319.01 373.82,320.61 375.44,322.21 377.05,323.81 378.67,325.40 380.29,327.00 381.90,328.59 383.52,330.19 385.13,331.78 386.75,333.37 388.37,334.96 389.98,336.55 391.60,338.14 393.22,339.72 394.83,341.31 396.45,342.89 398.06,344.47 399.68,346.05 401.30,347.63 402.91,349.21 404.53,350.79 406.15,352.36 407.76,353.94 409.38,355.51 411.00,357.08 412.61,358.65 414.23,360.22 415.84,361.79 417.46,363.35 419.08,364.91 420.69,366.47 422.31,368.03 423.93,369.59 425.54,371.15 427.16,372.70 428.77,374.26 430.39,375.81 432.01,377.36 433.62,378.90 435.24,380.45 436.86,381.99 438.47,383.54 440.09,385.07 441.70,386.61 443.32,388.15 444.94,389.68 446.55,391.21 448.17,392.74 449.78,394.27 451.40,395.80 453.02,397.32 454.63,398.84 456.25,400.36 457.87,401.88 459.48,403.39 461.10,404.90 462.72,406.41 464.33,407.92 465.95,409.42 467.56,410.93 469.18,412.43 470.80,413.92 472.41,415.42 474.03,416.91 475.65,418.40 477.26,419.89 478.88,421.38 480.49,422.86 482.11,424.34 483.73,425.82 485.34,427.29 486.96,428.76 488.58,430.23 490.19,431.70 491.81,433.16 493.42,434.63 495.04,436.08 496.66,437.54 498.27,438.99 499.89,440.44 501.51,441.89 503.12,443.33 504.74,444.78 506.35,446.21 507.97,447.65 509.59,449.08 511.20,450.51 512.82,451.94 514.43,453.36 516.05,454.78 517.67,456.20 519.28,457.61 520.90,459.03 522.52,460.43 524.13,461.84 525.75,463.24 527.37,464.64 528.98,466.03 530.60,467.42 532.21,468.81 533.83,470.20 535.45,471.58 537.06,472.96 538.68,474.33 540.30,475.71 541.91,477.07 543.53,478.44 545.14,479.80 546.76,481.16 548.38,482.51 549.99,483.87 551.61,485.21 553.23,486.56 554.84,487.90 556.46,489.24 558.07,490.57 559.69,491.90 561.31,493.22 562.92,494.55 564.54,495.87 566.15,497.18 567.77,498.49 569.39,499.80 571.00,501.10 572.62,502.40 574.24,503.70 575.85,504.99 577.47,506.28 579.09,507.57 580.70,508.85 582.32,510.13 583.93,511.40 585.55,512.67 587.17,513.94 588.78,515.20 590.40,516.46 592.01,517.71 593.63,518.96 595.25,520.21 596.86,521.45 598.48,522.69 600.10,523.92 601.71,525.15 603.33,526.38 604.94,527.60 606.56,528.82 608.18,530.03 609.79,531.24 611.41,532.44 613.03,533.64 614.64,534.84 616.26,536.03 617.88,537.22 619.49,538.41 621.11,539.59 622.72,540.76 624.34,541.93 625.96,543.10 627.57,544.27 629.19,545.42 630.81,546.58 632.42,547.73 634.04,548.87 635.65,550.02 637.27,551.15 638.89,552.29 640.50,553.41 642.12,554.54 643.74,555.66 645.35,556.77 646.97,557.88 648.58,558.99 650.20,560.09 651.82,561.19 653.43,562.28 655.05,563.37 656.67,564.46 658.28,565.53 659.90,566.61 661.51,567.68 663.13,568.75 664.75,569.81 666.36,570.86 667.98,571.92 669.60,572.96 671.21,574.01 672.83,575.04 674.44,576.08 676.06,577.11 677.68,578.13 679.29,579.15 680.91,580.17 682.53,581.18 684.14,582.18 685.76,583.18 687.37,584.18 688.99,585.17 690.61,586.16 692.22,587.14 693.84,588.12 695.45,589.09 697.07,590.06 698.69,591.02 700.30,591.98 701.92,592.93 703.54,593.88 705.15,594.83 706.77,595.77 708.38,596.70 710.00,597.63 711.62,598.56 713.23,599.48 714.85,600.39 716.47,601.30 718.08,602.21 719.70,603.11 721.32,604.00 722.93,604.89 724.55,605.78 726.16,606.66 727.78,607.54 729.40,608.41 731.01,609.28 732.63,610.14 734.25,610.99 735.86,611.85 737.48,612.69 739.09,613.54 740.71,614.37 742.33,615.20 743.94,616.03 745.56,616.85 747.18,617.67 748.79,618.48 750.41,619.29 752.02,620.09 753.64,620.89 755.26,621.68 756.87,622.47 758.49,623.25 760.11,624.03 761.72,624.80 763.34,625.57 764.95,626.33 766.57,627.09 768.19,627.84 769.80,628.59 771.42,629.33 773.03,630.07 774.65,630.80 776.27,631.53 777.88,632.25 779.50,632.97" stroke="#ff0000"/>
</g>
<rect x="133.00" y="18.95" width="646.50" height="647.35" fill="none" stroke="#000" stroke-width="1.85"/>
</svg>
</body></html>
